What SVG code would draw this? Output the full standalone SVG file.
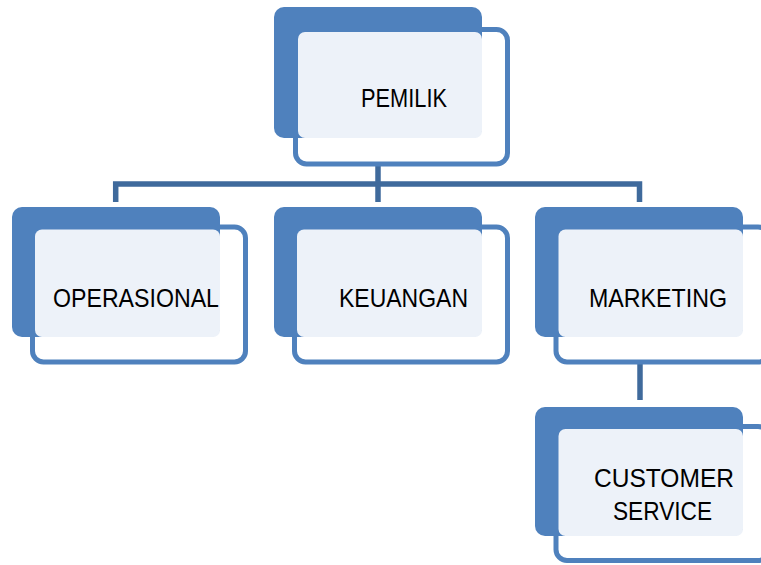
<svg xmlns="http://www.w3.org/2000/svg" width="761" height="565" viewBox="0 0 761 565">
<style>
.front{fill:#FFFFFF;stroke:#4F81BD;stroke-width:5}
.back{fill:#4F81BD}
.inner{fill:#EDF2F9}
.conn{fill:none;stroke:#3F6A9C;stroke-width:5.5;stroke-linejoin:miter}
.ghost{fill:none;stroke:#E4E8F1;stroke-width:4}
.lbl{font-family:"Liberation Sans",Arial,sans-serif;font-size:26px;fill:#000000}
</style>
<rect width="761" height="565" fill="#FFFFFF"/>
<g id="connectors">
<line class="ghost" x1="378" y1="143" x2="378" y2="162"/>
<line class="ghost" x1="640" y1="342" x2="640" y2="361"/>
<path class="conn" d="M115.7,202 V184 H639.5 V202"/>
<path class="conn" d="M378,165 V202"/>
<path class="conn" d="M640,364 V400"/>
</g>
<g id="node-pemilik">
<rect class="front" x="295.5" y="29.5" width="212" height="134.5" rx="11"/>
<rect class="back" x="274" y="7" width="208" height="131" rx="10"/>
<rect class="inner" x="298" y="32" width="184" height="106" rx="7"/>
<text class="lbl" x="361" y="107" textLength="86" lengthAdjust="spacingAndGlyphs">PEMILIK</text>
</g>
<g id="node-operasional">
<rect class="front" x="32.5" y="227" width="213" height="135" rx="11"/>
<rect class="back" x="12" y="207" width="208" height="130" rx="10"/>
<rect class="inner" x="35" y="229.5" width="185" height="107.5" rx="7"/>
<text class="lbl" x="53" y="306.5" textLength="166" lengthAdjust="spacingAndGlyphs">OPERASIONAL</text>
</g>
<g id="node-keuangan">
<rect class="front" x="294.5" y="227" width="213" height="135" rx="11"/>
<rect class="back" x="274" y="207" width="208" height="130" rx="10"/>
<rect class="inner" x="297" y="229.5" width="185" height="107.5" rx="7"/>
<text class="lbl" x="339" y="306.5" textLength="129" lengthAdjust="spacingAndGlyphs">KEUANGAN</text>
</g>
<g id="node-marketing">
<rect class="front" x="556" y="227" width="213" height="135" rx="11"/>
<rect class="back" x="535" y="207" width="208" height="130" rx="10"/>
<rect class="inner" x="558.5" y="229.5" width="184.5" height="107.5" rx="7"/>
<text class="lbl" x="589" y="306.5" textLength="138" lengthAdjust="spacingAndGlyphs">MARKETING</text>
</g>
<g id="node-customer-service">
<rect class="front" x="556" y="426.5" width="213" height="134" rx="11"/>
<rect class="back" x="535" y="407" width="208" height="129" rx="10"/>
<rect class="inner" x="558.5" y="429" width="184.5" height="107" rx="7"/>
<text class="lbl" x="594" y="487" textLength="140" lengthAdjust="spacingAndGlyphs">CUSTOMER</text>
<text class="lbl" x="613" y="520" textLength="99" lengthAdjust="spacingAndGlyphs">SERVICE</text>
</g>
</svg>
